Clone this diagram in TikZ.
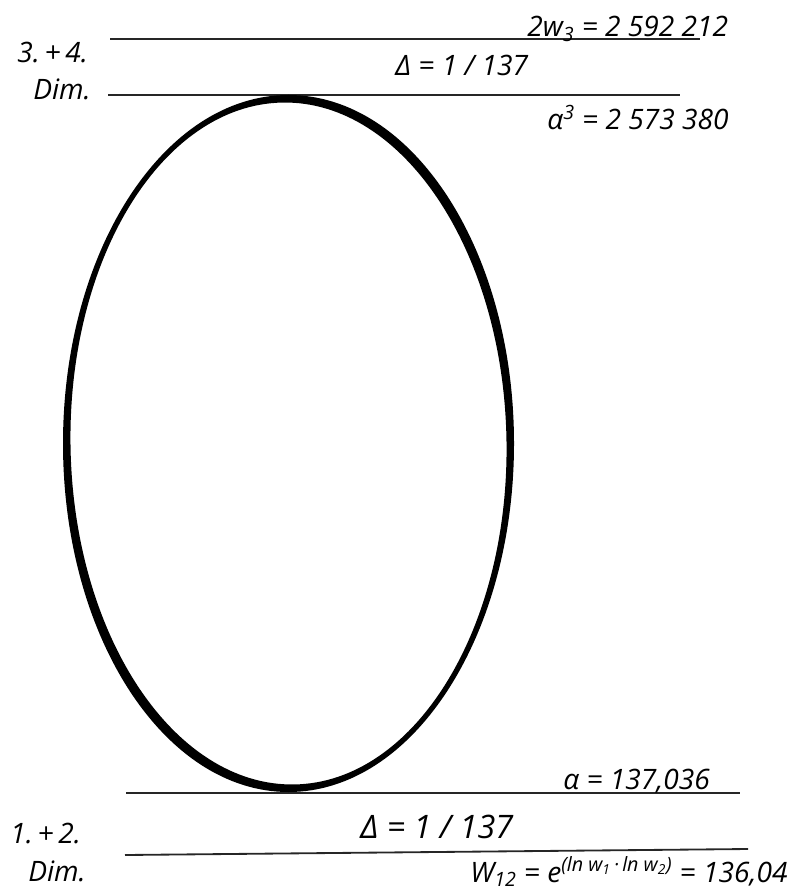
\documentclass[tikz,border=0pt]{standalone}
\usepackage{fontspec}
\setmainfont{Open Sans}
\tikzset{
  lab/.style={font=\fontsize{20}{24}\selectfont\itshape,inner sep=0pt,anchor=base west},
  biglab/.style={font=\fontsize{23}{28}\selectfont\itshape,inner sep=0pt,anchor=base west},
  hline/.style={line width=1.3pt,draw=black!85},
}

\begin{document}
\begin{tikzpicture}[x=0.025cm,y=-0.025cm]
  \useasboundingbox (0,0) rectangle (795,891);
  % upper pair, 3.+4. Dim.
  \coordinate (ua) at (110,39);  \coordinate (ub) at (700,39);
  \coordinate (uc) at (108,95);  \coordinate (ud) at (680,95);
  \draw[hline] (ua) -- (ub);
  \draw[hline] (uc) -- (ud);
  \node[lab] (dim34) at (17,63) {3.\,+\,4.};
  \node[lab] (dimup) at (33,100) {Dim.};
  \node[lab] (wthree) at (527,37) {2w\textsubscript{3} = 2 592 212};
  \node[lab] (deltaup) at (395,76) {Δ = 1 / 137};
  \node[lab] (alphacube) at (547,130) {α\textsuperscript{3} = 2 573 380};
  % lower pair, 1.+2. Dim.
  \coordinate (la) at (126,793); \coordinate (lb) at (740,793);
  \coordinate (lc) at (125,855); \coordinate (ld) at (748,849);
  \draw[hline] (la) -- (lb);
  \draw[hline] (lc) -- (ld);
  \node[lab] (alpha) at (563,789) {α = 137,036};
  \node[lab] (dim12) at (10,843) {1.\,+\,2.};
  \node[lab] (dimlow) at (28,881) {Dim.};
  \node[biglab] (deltalow) at (360,838) {Δ = 1 / 137};
  \node[lab] (wtwelve) at (470,882) {W\textsubscript{12} = e\textsuperscript{(ln w\textsubscript{1}\,·\,ln w\textsubscript{2})} = 136,04};
  % the egg, thicker on the right and lower left
  \coordinate (egg) at (288.5,443.5);
  \fill[even odd rule] (egg) ellipse [x radius=225.5,y radius=348.5]
    (egg) ellipse [x radius=218,y radius=341,rotate=1];
\end{tikzpicture}
\end{document}
